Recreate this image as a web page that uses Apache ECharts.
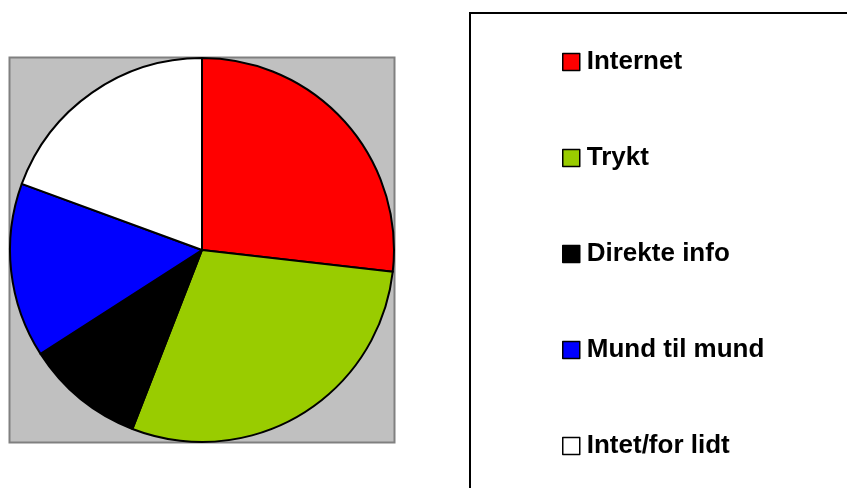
<!DOCTYPE html>
<html>
<head>
<meta charset="utf-8">
<script src="https://cdn.jsdelivr.net/npm/echarts@6/dist/echarts.min.js"></script>
<style>
  html, body { margin: 0; padding: 0; background: #fff; }
  #main { width: 847px; height: 488px; }
</style>
</head>
<body>
<div id="main"></div>
<script>
// kategorier og andele (%)
const categories = ["Internet", "Trykt", "Direkte info", "Mund til mund", "Intet/for lidt"];
const shares = [26.8, 29.1, 10.0, 14.7, 19.4];
const colors = ["#ff0000", "#99cc00", "#000000", "#0000ff", "#ffffff"];

const chart = echarts.init(document.getElementById("main"), null, { renderer: "canvas" });

const option = {
  animation: false,
  backgroundColor: "#ffffff",
  graphic: [
    // grå baggrund bag lagkagen
    {
      type: "rect",
      z: -10,
      shape: { x: 9.5, y: 57.5, width: 385, height: 385 },
      style: { fill: "#c0c0c0", stroke: "#808080", lineWidth: 2 },
    },
    // ramme om forklaringen
    {
      type: "rect",
      z: -10,
      shape: { x: 470, y: 13, width: 500, height: 600 },
      style: { fill: "#ffffff", stroke: "#000000", lineWidth: 2 },
    },
  ],
  legend: {
    orient: "vertical",
    left: 562,
    top: 49,
    padding: 0,
    icon: "rect",
    itemWidth: 17,
    itemHeight: 17,
    itemGap: 70,
    selectedMode: false,
    itemStyle: { borderColor: "#000", borderWidth: 1.5 },
    textStyle: {
      fontFamily: "Liberation Sans, Arial, sans-serif",
      fontWeight: "bold",
      fontSize: 26,
      lineHeight: 24,
      color: "#000",
      padding: [0, 0, 0, 2],
    },
    data: categories,
  },
  series: [
    {
      type: "pie",
      center: [202, 250],
      radius: 192,
      startAngle: 90,
      clockwise: true,
      silent: true,
      label: { show: false },
      labelLine: { show: false },
      itemStyle: { borderColor: "#000", borderWidth: 2 },
      data: categories.map((name, i) => ({
        name,
        value: shares[i],
        itemStyle: { color: colors[i] },
      })),
    },
  ],
};

chart.setOption(option);
</script>
</body>
</html>
